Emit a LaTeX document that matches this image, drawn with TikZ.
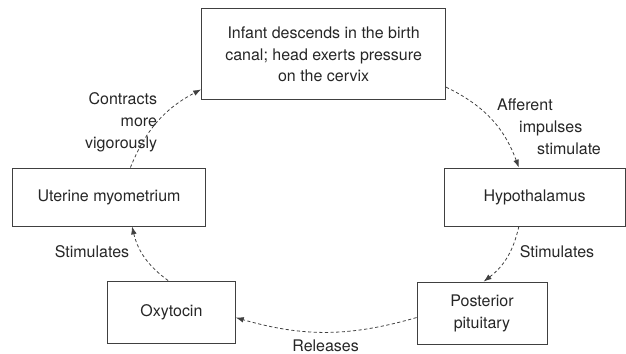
\documentclass[tikz,border=0pt]{standalone}
\usepackage{fontspec}
\setmainfont{TeX Gyre Heros}
\usetikzlibrary{arrows.meta}

\tikzset{
  box/.style={draw=black!75, line width=0.5pt, align=center, inner sep=0pt},
  flow/.style={draw=black!75, line width=0.45pt, dash pattern=on 1.8pt off 1.4pt,
    -{Latex[length=4.5pt,width=3.2pt]}}
}

\begin{document}
\begin{tikzpicture}[font=\fontsize{9.1}{12.5}\selectfont, text=black!85]

  \useasboundingbox (0,0) rectangle (12.52,7.08);

  % --- boxes ---
  \node[box, minimum width=4.88cm, minimum height=1.82cm] (infant) at (6.472,5.994)
    {Infant descends in the birth\\canal; head exerts pressure\\on the cervix};
  \node[box, minimum width=3.62cm, minimum height=1.16cm] (hypo) at (10.69,3.14) {Hypothalamus};
  \node[box, minimum width=2.60cm, minimum height=1.24cm] (post) at (9.64,0.82) {Posterior\\pituitary};
  \node[box, minimum width=2.56cm, minimum height=1.24cm] (oxy) at (3.428,0.84) {Oxytocin};
  \node[box, minimum width=3.86cm, minimum height=1.16cm] (uterus) at (2.18,3.14) {Uterine myometrium};

  % --- labels ---
  \node[anchor=west, align=left] (afferent) at (9.82,4.546)
    {Afferent\\\hspace{0.44cm}impulses\\\hspace{0.80cm}stimulate};
  \node (stimright) at (11.14,2.04) {Stimulates};
  \node (releases) at (6.512,0.17) {Releases};
  \node (stimleft) at (1.84,2.04) {Stimulates};
  \node[anchor=east, align=right] (contracts) at (3.264,4.626)
    {Contracts\\more\hspace{0.42cm}\\vigorously\hspace{0.66cm}};

  % --- cycle ---
  \draw[flow] (infant.-15) to[bend left=22] (hypo.118);
  \draw[flow] (hypo.242) to[bend left=20] (post.87);
  \draw[flow] (post.184) to[bend left=16] (oxy.-5);
  \draw[flow] (oxy.96) to[bend left=20] (uterus.-52);
  \draw[flow] (uterus.54) to[bend left=20] (infant.196);

\end{tikzpicture}
\end{document}
